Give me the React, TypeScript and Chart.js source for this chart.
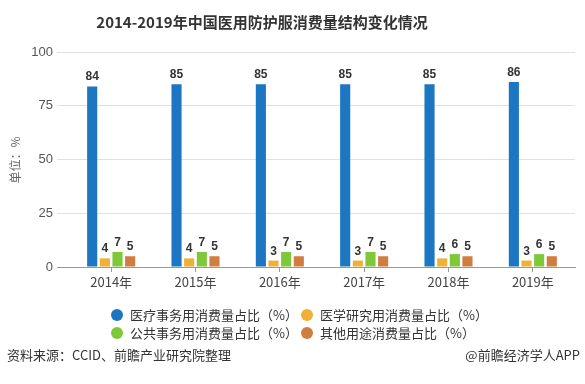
import React, { useEffect, useRef } from "react";
import { Chart, registerables } from "chart.js";

Chart.register(...registerables);

const titleText = "2014-2019年中国医用防护服消费量结构变化情况";
const yAxisTitle = "单位：%";
const sourceText = "资料来源：CCID、前瞻产业研究院整理";
const creditText = "@前瞻经济学人APP";

const years = ["2014年", "2015年", "2016年", "2017年", "2018年", "2019年"];
const yTicks = [0, 25, 50, 75, 100];

const seriesNames = [
  "医疗事务用消费量占比（%）",
  "医学研究用消费量占比（%）",
  "公共事务用消费量占比（%）",
  "其他用途消费量占比（%）",
];
const medicalAffairs = [84, 85, 85, 85, 85, 86];
const medicalResearch = [4, 4, 3, 3, 4, 3];
const publicAffairs = [7, 7, 7, 7, 6, 6];
const otherUses = [5, 5, 5, 5, 5, 5];
const seriesColors = ["#1c76c2", "#eeb035", "#7ec83a", "#d17d3f"];

const CJK = '"Noto Sans CJK SC", "Noto Sans", sans-serif';

const decorPlugin = {
  id: "decor",
  afterDatasetsDraw(chart: any) {
    const ctx = chart.ctx;
    ctx.save();
    ctx.font = `bold 12px "Liberation Sans", Arial, sans-serif`;
    ctx.fillStyle = "#333";
    ctx.textAlign = "center";
    ctx.textBaseline = "alphabetic";
    chart.data.datasets.forEach((ds: any, i: number) => {
      const meta = chart.getDatasetMeta(i);
      meta.data.forEach((bar: any, j: number) => {
        ctx.fillText(String(ds.data[j]), bar.x, bar.y - 6);
      });
    });
    ctx.restore();
  },
  afterDraw(chart: any) {
    const ctx = chart.ctx;
    ctx.save();
    ctx.font = `bold 15px ${CJK}`;
    ctx.fillStyle = "#333";
    ctx.textAlign = "center";
    ctx.textBaseline = "middle";
    ctx.fillText(titleText, 262, 22);

    ctx.save();
    ctx.translate(15, 160);
    ctx.rotate(-Math.PI / 2);
    ctx.font = `12px ${CJK}`;
    ctx.fillStyle = "#666";
    ctx.fillText(yAxisTitle, 0, 0);
    ctx.restore();

    const pos = [
      [117, 315],
      [307, 315],
      [117, 333],
      [307, 333],
    ];
    ctx.font = `13px ${CJK}`;
    ctx.textAlign = "left";
    chart.data.datasets.forEach((ds: any, i: number) => {
      const [cx, cy] = pos[i];
      ctx.beginPath();
      ctx.arc(cx, cy, 6, 0, Math.PI * 2);
      ctx.fillStyle = ds.backgroundColor;
      ctx.fill();
      ctx.fillStyle = "#333";
      ctx.fillText(ds.label, cx + 13, cy);
    });

    ctx.font = `13px ${CJK}`;
    ctx.fillStyle = "#333";
    ctx.textAlign = "left";
    ctx.fillText(sourceText, 7, 355);
    ctx.textAlign = "right";
    ctx.fillText(creditText, 580, 355);
    ctx.restore();
  },
};

export default function App() {
  const ref = useRef<HTMLCanvasElement | null>(null);
  useEffect(() => {
    document.body.style.margin = "0";
    const values = [medicalAffairs, medicalResearch, publicAffairs, otherUses];
    const chart = new Chart(ref.current as HTMLCanvasElement, {
      type: "bar",
      data: {
        labels: years,
        datasets: seriesNames.map((name, i) => ({
          label: name,
          data: values[i],
          backgroundColor: seriesColors[i],
          categoryPercentage: 0.6,
          barPercentage: 0.8,
        })),
      },
      options: {
        animation: false,
        responsive: false,
        devicePixelRatio: 1,
        layout: { padding: { top: 52, right: 10, bottom: 0, left: 0 } },
        plugins: {
          legend: { display: false },
          tooltip: { enabled: false },
          title: { display: false },
        },
        scales: {
          x: {
            grid: {
              offset: false,
              drawOnChartArea: false,
              drawTicks: true,
              tickLength: 5,
              color: "#999",
            },
            border: { display: true, color: "#999" },
            ticks: {
              color: "#444",
              font: { size: 13, family: CJK },
              padding: 2,
            },
            afterFit(scale: any) {
              scale.height = 117;
            },
          },
          y: {
            min: 0,
            max: 100,
            afterBuildTicks(scale: any) {
              scale.ticks = yTicks.map((v) => ({ value: v }));
            },
            grid: {
              color: (c: any) => (c.tick && c.tick.value === 0 ? "#999" : "#e0e0e0"),
              tickLength: 12,
            },
            border: { display: false },
            ticks: {
              color: "#555",
              font: { size: 13, family: '"Liberation Sans", Arial, sans-serif' },
              padding: 4,
            },
            afterFit(scale: any) {
              scale.width = 69;
            },
          },
        },
      },
      plugins: [decorPlugin],
    } as any);
    return () => chart.destroy();
  }, []);
  return (
    <div style={{ width: 585, height: 384 }}>
      <canvas ref={ref} width={585} height={384} />
    </div>
  );
}
